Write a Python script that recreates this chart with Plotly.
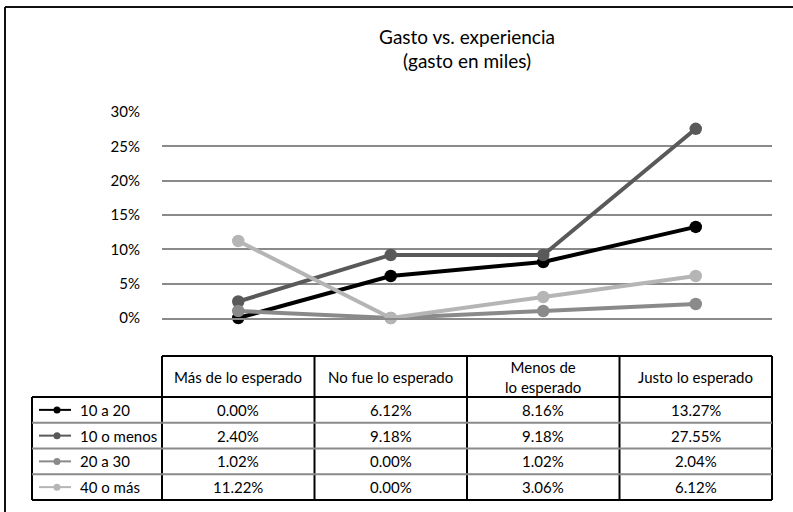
import plotly.graph_objects as go

# ---- data ----
categories = ["Más de lo esperado", "No fue lo esperado", "Menos de<br>lo esperado", "Justo lo esperado"]
series_names = ["10 a 20", "10 o menos", "20 a 30", "40 o más"]
v_10_20 = [0.00, 6.12, 8.16, 13.27]
v_10_menos = [2.40, 9.18, 9.18, 27.55]
v_20_30 = [1.02, 0.00, 1.02, 2.04]
v_40_mas = [11.22, 0.00, 3.06, 6.12]
series_values = [v_10_20, v_10_menos, v_20_30, v_40_mas]
colors = ["#000000", "#595959", "#8a8a8a", "#b5b5b5"]
y_ticks = [0, 5, 10, 15, 20, 25, 30]
y_ticklabels = ["0%", "5%", "10%", "15%", "20%", "25%", "30%"]

FONT = "Lato"
W_PX, H_PX = 793, 512
L, R, T, B = 162, 772, 112, 318
PW, PH = R - L, B - T


def px(x):
    return (x - L) / PW


def py(y):
    return (B - y) / PH


fig = go.Figure()
x_idx = list(range(len(categories)))
for name, vals, col in zip(series_names, series_values, colors):
    fig.add_trace(go.Scatter(
        x=x_idx, y=vals, name=name, mode="lines+markers",
        line=dict(color=col, width=4),
        marker=dict(color=col, size=12.5),
        cliponaxis=False, showlegend=False,
    ))

shapes = []
annotations = []
n = len(categories)

# frame
shapes.append(dict(type="line", xref="paper", yref="paper", x0=px(5), x1=px(800), y0=py(7), y1=py(7),
                   line=dict(color="#111111", width=2)))
shapes.append(dict(type="line", xref="paper", yref="paper", x0=px(5), x1=px(5), y0=py(7), y1=py(520),
                   line=dict(color="#111111", width=2)))

# table geometry
hdr_top, hdr_bot = 356, 397
row_h = 25.75
row_edges = [hdr_bot + i * row_h for i in range(len(series_names) + 1)]
leg_left = 32
col_edges = [i / n for i in range(n + 1)]

blk = dict(color="#000000", width=2)
gry = dict(color="#8a8a8a", width=2)
# header top
shapes.append(dict(type="line", xref="paper", yref="paper", x0=0, x1=1, y0=py(hdr_top), y1=py(hdr_top), line=blk))
# vertical column lines
for ce in col_edges:
    shapes.append(dict(type="line", xref="paper", yref="paper", x0=ce, x1=ce,
                       y0=py(hdr_top), y1=py(row_edges[-1]), line=blk))
# legend column left
shapes.append(dict(type="line", xref="paper", yref="paper", x0=px(leg_left), x1=px(leg_left),
                   y0=py(hdr_bot), y1=py(row_edges[-1]), line=blk))
# horizontal row lines
for k, ye in enumerate(row_edges):
    ln = blk if k in (0, len(row_edges) - 1) else gry
    shapes.append(dict(type="line", xref="paper", yref="paper", x0=px(leg_left), x1=1,
                       y0=py(ye), y1=py(ye), line=ln))

# header text
for i, c in enumerate(categories):
    annotations.append(dict(text=c, xref="paper", yref="paper", x=(i + 0.5) / n, y=py((hdr_top + hdr_bot) / 2),
                            xanchor="center", yanchor="middle", showarrow=False,
                            font=dict(family=FONT, size=15, color="#000000")))

# rows
for r, (name, vals, col) in enumerate(zip(series_names, series_values, colors)):
    yc = py((row_edges[r] + row_edges[r + 1]) / 2)
    shapes.append(dict(type="line", xref="paper", yref="paper", x0=px(39), x1=px(71), y0=yc, y1=yc,
                       line=dict(color=col, width=2)))
    shapes.append(dict(type="circle", xref="paper", yref="paper", xsizemode="pixel", ysizemode="pixel",
                       xanchor=px(57), yanchor=yc, x0=-3.5, x1=3.5, y0=-3.5, y1=3.5,
                       fillcolor=col, line=dict(color=col, width=0)))
    annotations.append(dict(text=name, xref="paper", yref="paper", x=px(78), y=yc,
                            xanchor="left", yanchor="middle", showarrow=False,
                            font=dict(family=FONT, size=15, color="#000000")))
    for i, v in enumerate(vals):
        annotations.append(dict(text=f"{v:.2f}%", xref="paper", yref="paper", x=(i + 0.5) / n, y=yc,
                                xanchor="center", yanchor="middle", showarrow=False,
                                font=dict(family=FONT, size=15, color="#000000")))

fig.update_layout(
    width=W_PX, height=H_PX,
    margin=dict(l=L, r=W_PX - R, t=T, b=H_PX - B, pad=0),
    paper_bgcolor="white", plot_bgcolor="white",
    font=dict(family=FONT, size=15, color="#000000"),
    title=dict(text="Gasto vs. experiencia<br>(gasto en miles)", x=0.5, xref="paper",
               y=1 - 43.5 / H_PX, yref="container", xanchor="center", yanchor="middle",
               font=dict(family=FONT, size=19, color="#000000")),
    xaxis=dict(range=[-0.5, n - 0.5], showticklabels=False, showgrid=False, zeroline=False,
               showline=True, linecolor="#8a8a8a", linewidth=2, ticks=""),
    yaxis=dict(range=[0, 30], tickvals=y_ticks, ticktext=y_ticklabels, showgrid=True,
               gridcolor="#8a8a8a", gridwidth=2, zeroline=False, showline=False,
               ticks="outside", ticklen=18, tickcolor="rgba(0,0,0,0)",
               tickfont=dict(family=FONT, size=15, color="#000000")),
    shapes=shapes, annotations=annotations,
)

fig.write_html("out.html")
